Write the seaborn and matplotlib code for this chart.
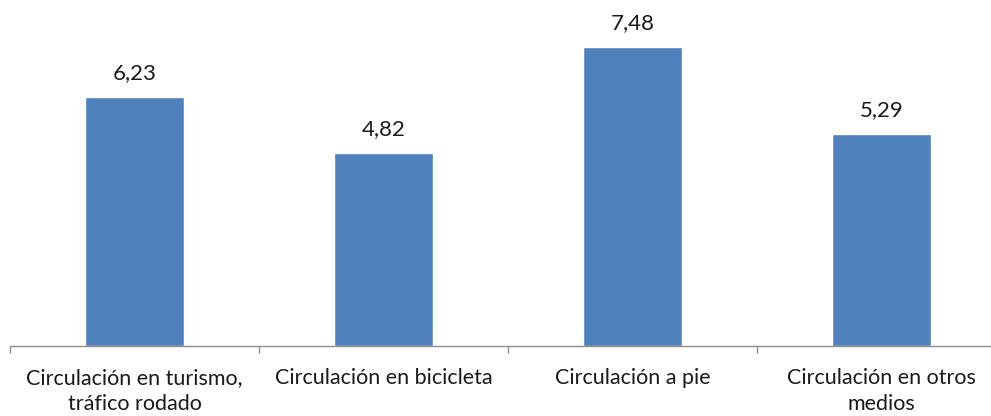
import matplotlib
matplotlib.use('Agg')
import matplotlib.pyplot as plt
import seaborn as sns
import pandas as pd
import numpy as np

categorias = ['Circulación en turismo,\ntráfico rodado', 'Circulación en bicicleta',
              'Circulación a pie', 'Circulación en otros\nmedios']
valores = [6.23, 4.82, 7.48, 5.29]

df = pd.DataFrame({'categoria': categorias, 'valor': valores})

sns.set_style('white')
plt.rcParams['font.family'] = ['Lato', 'DejaVu Sans']

fig = plt.figure(figsize=(9.91, 4.16), dpi=100)
# axis runs a bit past the right edge, like the original
ax = fig.add_axes([10 / 991, (416 - 346) / 416, 996 / 991, 346 / 416])

sns.barplot(data=df, x='categoria', y='valor', color='#4F81BD', width=0.4,
            saturation=1, ax=ax)

ax.set_xlim(-0.5, 3.5)
ax.set_ylim(0, 346 / 40)

for i, v in enumerate(valores):
    ax.text(i, v + 0.35, f'{v:.2f}'.replace('.', ','), ha='center', va='bottom',
            fontsize=16, color='#1a1a1a')

for s in ['top', 'right', 'left']:
    ax.spines[s].set_visible(False)
ax.spines['bottom'].set_color('#8c8c8c')
ax.spines['bottom'].set_linewidth(1)

ax.set_yticks([])
ax.set_xticks(range(4))
ax.set_xticklabels(categorias, fontsize=15.5, color='#1a1a1a', linespacing=1.35)
ax.tick_params(axis='x', which='major', length=0, pad=16)
ax.set_xticks(np.arange(-0.5, 4, 1), minor=True)
ax.tick_params(axis='x', which='minor', bottom=True, length=5, width=1,
               color='#8c8c8c', direction='out')
ax.set_xlabel('')
ax.set_ylabel('')

fig.savefig('out.png', dpi=100)
